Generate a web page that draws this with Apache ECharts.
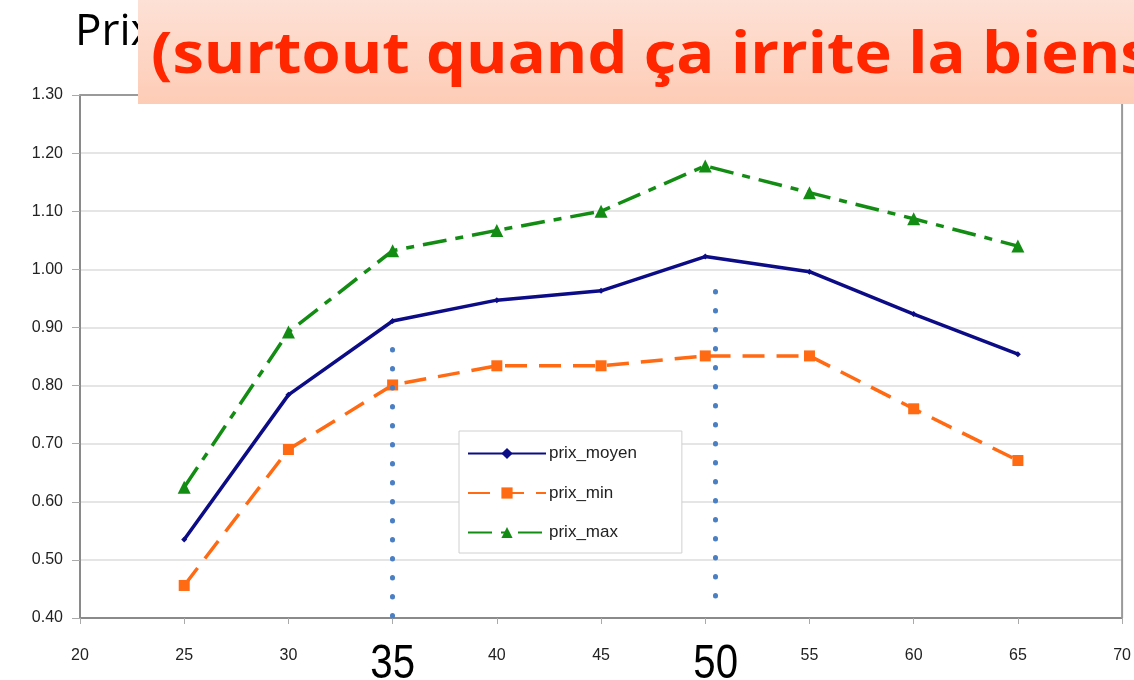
<!DOCTYPE html>
<html>
<head>
<meta charset="utf-8">
<script src="https://cdn.jsdelivr.net/npm/echarts@6/dist/echarts.min.js"></script>
<style>
  html, body { margin: 0; padding: 0; background: #fff; }
  #main { width: 1134px; height: 680px; }
</style>
</head>
<body>
<div id="main"></div>
<script>
// ages (x) and prices
var ages = [25, 30, 35, 40, 45, 50, 55, 60, 65];
var prixMoyen = [0.535, 0.784, 0.911, 0.947, 0.963, 1.022, 0.996, 0.923, 0.854];
var prixMin = [0.456, 0.690, 0.801, 0.834, 0.834, 0.851, 0.851, 0.760, 0.671];
var prixMax = [0.625, 0.892, 1.032, 1.067, 1.100, 1.178, 1.132, 1.087, 1.040];
var seriesNames = ['prix_moyen', 'prix_min', 'prix_max'];

// dotted markers : [x, yTop, yBottom] and the big label under each
var markers = [[35, 0.862, 0.40], [50.5, 0.962, 0.42]];
var markerLabels = ['35', '50'];

var titleText = 'Prix';
var bannerText = '(surtout quand ça irrite la biens';

function pairs(ys) {
  return ages.map(function (a, i) { return [a, ys[i]]; });
}

var chart = echarts.init(document.getElementById('main'));

var option = {
  animation: false,
  grid: { left: 80, right: 11, top: 95, bottom: 62 },
  legend: {
    orient: 'vertical',
    left: 459,
    top: 431,
    padding: [14, 45, 12, 8],
    itemWidth: 78,
    itemHeight: 14,
    itemGap: 22.5,
    backgroundColor: '#fff',
    borderColor: '#d0d0d0',
    borderWidth: 1,
    textStyle: { fontFamily: 'Liberation Sans', fontSize: 17, color: '#222', padding: [0, 0, 0, -2] },
    data: seriesNames
  },
  xAxis: {
    type: 'value',
    min: 20, max: 70, interval: 5,
    axisLine: { lineStyle: { color: '#8a8a8a', width: 2 } },
    axisTick: { show: true, length: 6, lineStyle: { color: '#aaa' } },
    axisLabel: { fontFamily: 'Liberation Sans', fontSize: 16, color: '#222', margin: 30 },
    splitLine: { show: false }
  },
  yAxis: {
    type: 'value',
    min: 0.4, max: 1.3, interval: 0.1,
    axisLine: { show: true, lineStyle: { color: '#8a8a8a', width: 2 } },
    axisTick: { show: true, length: 8, lineStyle: { color: '#aaa' } },
    axisLabel: {
      fontFamily: 'Liberation Sans', fontSize: 16, color: '#222', margin: 17,
      formatter: function (v) { return v.toFixed(2); }
    },
    splitLine: { lineStyle: { color: '#dcdcdc', width: 1.5 } }
  },
  series: [
    {
      name: seriesNames[0], type: 'line', data: pairs(prixMoyen),
      color: '#0c0c86', symbol: 'diamond', symbolSize: 6,
      lineStyle: { width: 3.5 }
    },
    {
      name: seriesNames[1], type: 'line', data: pairs(prixMin),
      color: '#ff6a12', symbol: 'rect', symbolSize: 11,
      lineStyle: { width: 3.5, type: [22, 12] }
    },
    {
      name: seriesNames[2], type: 'line', data: pairs(prixMax),
      color: '#138c13', symbol: 'triangle', symbolSize: 13,
      lineStyle: { width: 3.5, type: [24, 9, 8, 9] }
    },
    {
      type: 'line', data: [], silent: true,
      markLine: {
        silent: true, symbol: 'none',
        label: { show: false },
        lineStyle: { color: '#4a7fc4', width: 5, type: [0.5, 18.5], cap: 'round' },
        data: markers.map(function (m) {
          return [{ coord: [m[0], m[1]] }, { coord: [m[0], m[2]] }];
        })
      }
    }
  ]
};

chart.setOption(option);

// frame on top and right of the plot
var gx0 = chart.convertToPixel({ gridIndex: 0 }, [20, 1.3]);
var gx1 = chart.convertToPixel({ gridIndex: 0 }, [70, 0.4]);

var elements = [
  {
    type: 'polyline', silent: true, z: 1,
    shape: { points: [[gx0[0], gx0[1]], [gx1[0], gx0[1]], [gx1[0], gx1[1]]] },
    style: { stroke: '#9a9a9a', lineWidth: 2, fill: null }
  },
  {
    type: 'text', left: 75, top: 10, z: 10,
    style: { text: titleText, font: '44px "Open Sans"', fill: '#000' }
  },
  {
    type: 'rect', z: 11,
    shape: { x: 138, y: 0, width: 1000, height: 104 },
    style: {
      fill: new echarts.graphic.LinearGradient(0, 0, 0, 1, [
        { offset: 0, color: '#fde1d6' },
        { offset: 1, color: '#fdccb6' }
      ])
    }
  },
  {
    type: 'text', z: 12, x: 151, y: 27, scaleX: 1.09,
    style: { text: bannerText, font: 'bold 58px "Open Sans"', fill: '#ff2600' }
  }
];

markers.forEach(function (m, i) {
  var p = chart.convertToPixel({ gridIndex: 0 }, [m[0], 0.4]);
  elements.push({
    type: 'text', z: 12, x: p[0], y: 664, scaleX: 0.82,
    style: {
      text: markerLabels[i], font: '49px "Liberation Sans"',
      fill: '#000', align: 'center', verticalAlign: 'middle',
      backgroundColor: '#fff', padding: [0, 16]
    }
  });
});

chart.setOption({ graphic: { elements: elements } });
</script>
</body>
</html>
